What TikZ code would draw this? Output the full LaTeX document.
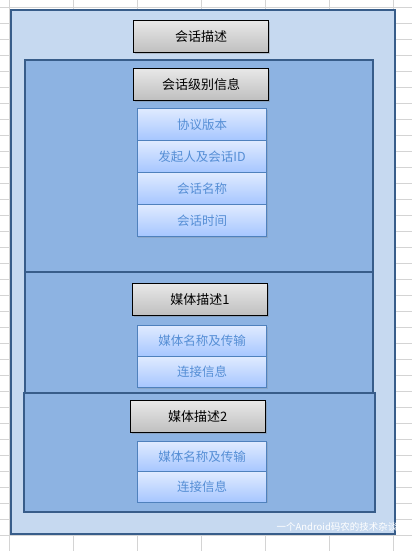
\documentclass[tikz,border=0pt]{standalone}
\usepackage{fontspec}
\setmainfont{Noto Sans CJK SC}
\usetikzlibrary{shadows}
\definecolor{framecol}{RGB}{56,93,138}
\definecolor{outerfill}{RGB}{198,217,240}
\definecolor{sectfill}{RGB}{141,179,226}
\definecolor{itemtop}{RGB}{224,235,255}
\definecolor{itembot}{RGB}{166,198,255}
\definecolor{itemline}{RGB}{79,129,189}
\definecolor{itemtext}{RGB}{85,142,213}
\definecolor{gridcol}{RGB}{212,212,212}

\tikzset{
	gridline/.style={draw=gridcol,line width=0.8pt},
	sectbox/.style={draw=framecol,line width=1.8pt},
	headbox/.style={draw=black,line width=0.9pt,top color=gray!18,bottom color=gray!50,
		minimum width=135pt,minimum height=32pt,inner sep=0pt,
		drop shadow={opacity=0.35,shadow xshift=1.2pt,shadow yshift=-1.5pt},
		font=\fontsize{13}{15}\selectfont},
	itembox/.style={draw=itemline,line width=0.8pt,top color=itemtop,bottom color=itembot,
		minimum width=129.4pt,inner sep=0pt,text=itemtext,
		drop shadow={opacity=0.25,shadow xshift=0.8pt,shadow yshift=-1.2pt},
		font=\fontsize{12.5}{15}\selectfont}
}

\begin{document}
\begin{tikzpicture}[line join=miter,x=1pt,y=-1pt]
	\useasboundingbox (0,0) rectangle (412,551);
	\fill[white] (0,0) rectangle (412,551);
	% sheet grid
	\foreach \gx in {9.3,73.3,137.3,201.3,265.3,329.3,393.3}
		\draw[gridline] (\gx,0) -- (\gx,551);
	\foreach \k in {0,...,34}
		\draw[gridline] (0,7.3+16*\k) -- (412,7.3+16*\k);
	% frames
	\draw[sectbox,fill=outerfill] (11,10) rectangle (395,534);
	\draw[sectbox,fill=sectfill] (25,60) rectangle (373,272);
	\draw[sectbox,fill=sectfill] (25,272) rectangle (373,393);
	\draw[sectbox,fill=sectfill] (23.7,393) rectangle (374.7,512);
	% session level
	\node[headbox] (sessdesc) at (201,36.5) {会话描述};
	\node[headbox] (sesslevel) at (201,84.3) {会话级别信息};
	\node[itembox,minimum height=32pt] (version) at (202,124.3) {协议版本};
	\node[itembox,minimum height=32pt] (origin) at (202,156.3) {发起人及会话ID};
	\node[itembox,minimum height=32pt] (sessname) at (202,188.3) {会话名称};
	\node[itembox,minimum height=32pt] (sesstime) at (202,220.3) {会话时间};
	% media 1
	\node[headbox] (mediaone) at (200,299.3) {媒体描述1};
	\node[itembox,minimum height=31pt] (nameone) at (202,340.8) {媒体名称及传输};
	\node[itembox,minimum height=31pt] (connone) at (202,371.8) {连接信息};
	% media 2
	\node[headbox] (mediatwo) at (197.8,416.5) {媒体描述2};
	\node[itembox,minimum height=30.5pt] (nametwo) at (202,456.5) {媒体名称及传输};
	\node[itembox,minimum height=30.5pt] (conntwo) at (202,487) {连接信息};
	% watermark
	\node[text=white,font=\fontsize{9.5}{11}\selectfont] (mark) at (337,527) {一个Android码农的技术杂谈};
\end{tikzpicture}
\end{document}
